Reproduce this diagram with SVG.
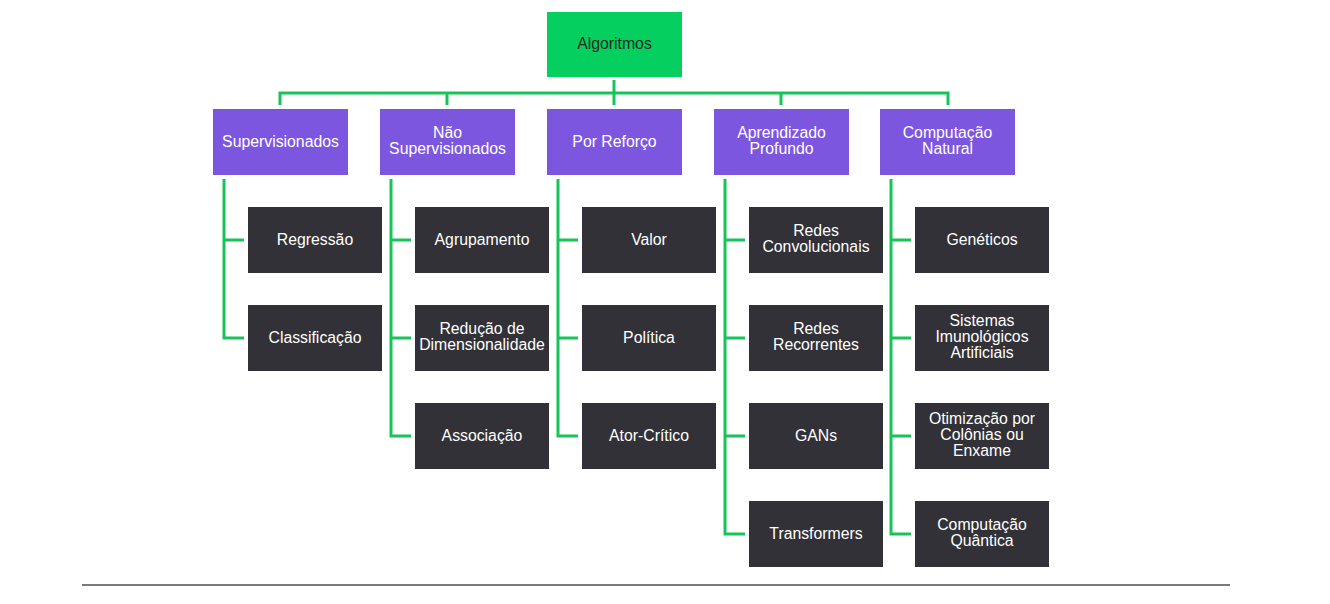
<svg xmlns="http://www.w3.org/2000/svg" width="1330" height="604" viewBox="0 0 1330 604">
<style>
text{font-family:"Liberation Sans",Arial,sans-serif;font-size:15.8px;text-anchor:middle;fill:#ffffff}
.root rect{fill:#05cf5f}
.root text{fill:#1e2a22}
.cat rect{fill:#7d56e0}
.leaf rect{fill:#323137}
.conn path{fill:none;stroke:#17c459;stroke-width:3;stroke-linejoin:miter;stroke-linecap:butt}
.rule{stroke:#7a7a7a;stroke-width:2}
</style>
<rect width="1330" height="604" fill="#ffffff"/>
<g class="conn" id="connectors">
<path d="M614 80 V105"/>
<path d="M280 105 V93 H948 V105"/>
<path d="M447 93 V105"/>
<path d="M781 93 V105"/>
<path d="M224 179 V338 H244 M224 240 H244"/>
<path d="M391 179 V436 H411 M391 240 H411 M391 338 H411"/>
<path d="M558 179 V436 H578 M558 240 H578 M558 338 H578"/>
<path d="M725 179 V534 H745 M725 240 H745 M725 338 H745 M725 436 H745"/>
<path d="M891 179 V534 H911 M891 240 H911 M891 338 H911 M891 436 H911"/>
</g>
<g id="algoritmos" class="root"><rect x="547" y="12" width="135" height="65"/><text x="614.5" y="49">Algoritmos</text></g>
<g id="supervisionados" class="cat"><rect x="213" y="109" width="135" height="66"/><text x="280.5" y="146.5">Supervisionados</text></g>
<g id="nao-supervisionados" class="cat"><rect x="380" y="109" width="135" height="66"/><text x="447.5" y="138">Não</text><text x="447.5" y="154">Supervisionados</text></g>
<g id="por-reforco" class="cat"><rect x="547" y="109" width="135" height="66"/><text x="614.5" y="146.5">Por Reforço</text></g>
<g id="aprendizado-profundo" class="cat"><rect x="714" y="109" width="135" height="66"/><text x="781.5" y="138">Aprendizado</text><text x="781.5" y="154">Profundo</text></g>
<g id="computacao-natural" class="cat"><rect x="880" y="109" width="135" height="66"/><text x="947.5" y="138">Computação</text><text x="947.5" y="154">Natural</text></g>

<g id="regressao" class="leaf"><rect x="248" y="207" width="134" height="66"/><text x="315" y="244.5">Regressão</text></g>
<g id="classificacao" class="leaf"><rect x="248" y="305" width="134" height="66"/><text x="315" y="342.5">Classificação</text></g>

<g id="agrupamento" class="leaf"><rect x="415" y="207" width="134" height="66"/><text x="482" y="244.5">Agrupamento</text></g>
<g id="reducao" class="leaf"><rect x="415" y="305" width="134" height="66"/><text x="482" y="334">Redução de</text><text x="482" y="350">Dimensionalidade</text></g>
<g id="associacao" class="leaf"><rect x="415" y="403" width="134" height="66"/><text x="482" y="440.5">Associação</text></g>

<g id="valor" class="leaf"><rect x="582" y="207" width="134" height="66"/><text x="649" y="244.5">Valor</text></g>
<g id="politica" class="leaf"><rect x="582" y="305" width="134" height="66"/><text x="649" y="342.5">Política</text></g>
<g id="ator-critico" class="leaf"><rect x="582" y="403" width="134" height="66"/><text x="649" y="440.5">Ator-Crítico</text></g>

<g id="redes-convolucionais" class="leaf"><rect x="749" y="207" width="134" height="66"/><text x="816" y="236">Redes</text><text x="816" y="252">Convolucionais</text></g>
<g id="redes-recorrentes" class="leaf"><rect x="749" y="305" width="134" height="66"/><text x="816" y="334">Redes</text><text x="816" y="350">Recorrentes</text></g>
<g id="gans" class="leaf"><rect x="749" y="403" width="134" height="66"/><text x="816" y="440.5">GANs</text></g>
<g id="transformers" class="leaf"><rect x="749" y="501" width="134" height="66"/><text x="816" y="538.5">Transformers</text></g>

<g id="geneticos" class="leaf"><rect x="915" y="207" width="134" height="66"/><text x="982" y="244.5">Genéticos</text></g>
<g id="sistemas-imunologicos" class="leaf"><rect x="915" y="305" width="134" height="66"/><text x="982" y="326">Sistemas</text><text x="982" y="342">Imunológicos</text><text x="982" y="358">Artificiais</text></g>
<g id="otimizacao-colonias" class="leaf"><rect x="915" y="403" width="134" height="66"/><text x="982" y="424">Otimização por</text><text x="982" y="440">Colônias ou</text><text x="982" y="456">Enxame</text></g>
<g id="computacao-quantica" class="leaf"><rect x="915" y="501" width="134" height="66"/><text x="982" y="530">Computação</text><text x="982" y="546">Quântica</text></g>

<line class="rule" x1="82" y1="585" x2="1230" y2="585"/>
</svg>
